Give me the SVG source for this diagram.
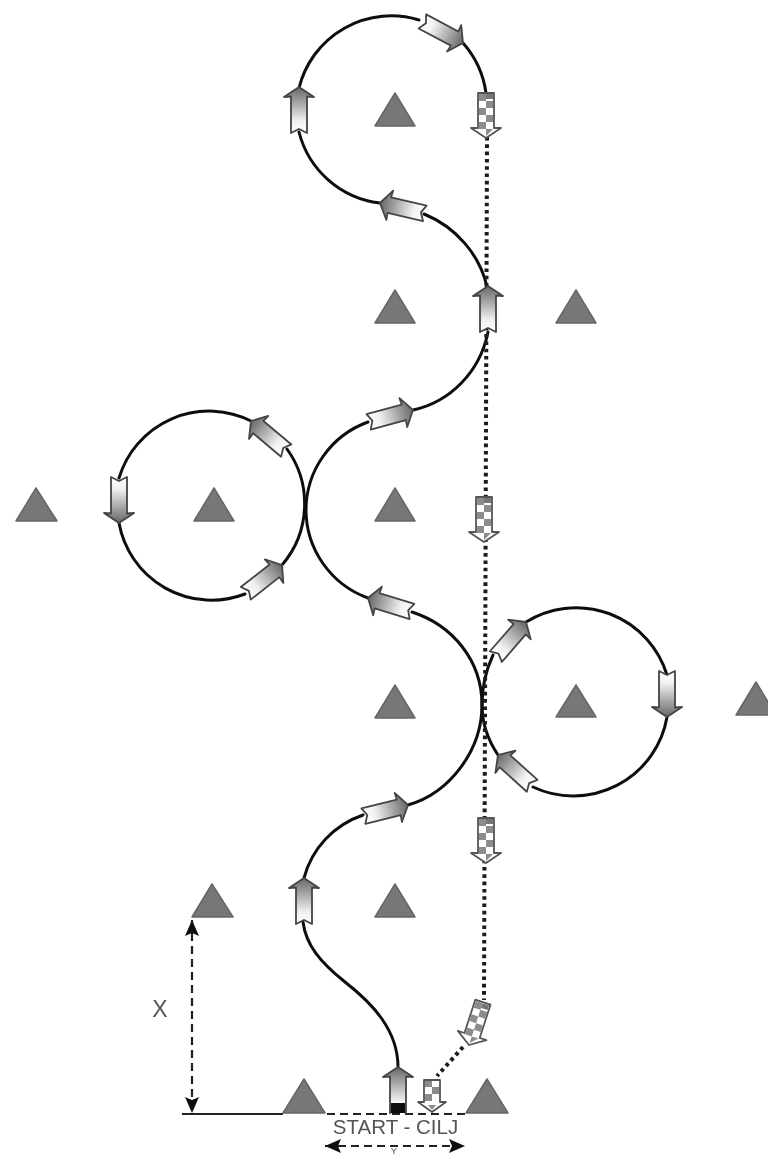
<svg xmlns="http://www.w3.org/2000/svg" width="768" height="1156" viewBox="0 0 768 1156">
<style>
.c{fill:none;stroke:#111;stroke-width:3;stroke-linecap:round}
.d{fill:none;stroke:#1a1a1a;stroke-width:4;stroke-dasharray:3.6 3.7}
.k{fill:none;stroke:#222;stroke-width:2.2;stroke-dasharray:8 5}
.t{fill:#777;stroke:#666;stroke-width:1.5;stroke-linejoin:round}
.l{font-family:"Liberation Sans",Arial,sans-serif;fill:#555}
.o{fill:#fff;stroke:#555;stroke-width:1.8;stroke-linejoin:round}
.q{fill:#8c8c8c}
</style>
<defs>
<filter id="s" x="-2%" y="-2%" width="104%" height="104%"><feGaussianBlur stdDeviation="0.45"/></filter>
<linearGradient id="g" x1="0" y1="0" x2="0" y2="1"><stop offset="0" stop-color="#666"/><stop offset=".75" stop-color="#f2f2f2"/><stop offset="1" stop-color="#fff"/></linearGradient>
<g id="a"><path d="M0 0L15 10L8 9.500V46L0 42L-8 46V9.500L-15 10Z" fill="url(#g)" stroke="#444" stroke-width="1.800" stroke-linejoin="round"/></g>
<g id="b"><path class="o" d="M0 0L-15 -10H-8V-45H8V-10H15Z"/>
<path class="q" d="M-7 -44H0V-37H-7ZM0 -37H7V-30H0ZM-7 -30H0V-23H-7ZM0 -23H7V-16H0ZM-7 -16H0V-9H-7ZM0 -9H7L0 -2Z"/><path fill="#777" d="M0 -44H7V-39H0Z"/></g>
<g id="b2"><path class="o" d="M0 0L-14 -10H-8V-32H8V-10H14Z"/>
<path class="q" d="M-7 -31H0V-25H-7ZM0 -25H7V-18H0ZM-7 -18H0V-11H-7ZM-4 -7H4L0 -2Z"/></g>
<marker id="m" viewBox="0 0 16 14" refX="16" refY="7" markerWidth="16" markerHeight="14" orient="auto-start-reverse" markerUnits="userSpaceOnUse"><path d="M0 0L16 7L0 14L3 7Z" fill="#111"/></marker>
</defs>
<g filter="url(#s)">
<g id="connectors">
<path class="c" d="M299 88A95 95 0 0 1 419 20"/>
<path class="c" d="M463 43A95 95 0 0 1 486 93"/>
<path class="c" d="M299 132A95 95 0 0 0 380 203"/>
<path class="c" d="M424 214C456 227 480 255 487 287"/>
<path class="c" d="M488 332C480 372 450 402 413 410"/>
<path class="c" d="M368 422A94 94 0 0 0 306 510A94 94 0 0 0 368 598"/>
<path class="c" d="M412 612C452 625 482 660 482 705C482 750 450 793 408 805"/>
<path class="c" d="M363 815C334 825 312 848 304 878"/>
<path class="c" d="M303 922C306 945 320 962 345 982C372 1003 398 1030 398 1067"/>
<path class="c" d="M119 478A94 94 0 0 1 251 421"/>
<path class="c" d="M119 523A94 94 0 0 0 245 594"/>
<path class="c" d="M282 565A94 94 0 0 0 287 449"/>
<path class="c" d="M526 622A95 95 0 0 1 667 675"/>
<path class="c" d="M667 717A95 95 0 0 1 533 787"/>
<path class="c" d="M498 755C488 740 482 722 482 705C482 684 486 670 493 655"/>
<path class="d" d="M487 137L484 1000"/>
<path class="d" d="M463 1047L437 1076"/>
<path class="k" d="M192 920V1113" marker-start="url(#m)" marker-end="url(#m)"/>
<path d="M182 1114H283" stroke="#222" stroke-width="2.200" fill="none"/>
<path class="k" d="M327 1114H466"/>
<path class="k" d="M325 1146H465" marker-start="url(#m)" marker-end="url(#m)"/>
</g>
<g id="cones">
<path class="t" d="M395 93L415 126H375Z"/>
<path class="t" d="M395 290L415 323H375Z"/>
<path class="t" d="M576 290L596 323H556Z"/>
<path class="t" d="M36 488L57 521H16Z"/>
<path class="t" d="M214 488L234 521H194Z"/>
<path class="t" d="M395 488L415 521H375Z"/>
<path class="t" d="M395 685L415 718H375Z"/>
<path class="t" d="M576 685L596 717H556Z"/>
<path class="t" d="M756 682L776 715H736Z"/>
<path class="t" d="M212 884L233 917H192Z"/>
<path class="t" d="M395 884L415 917H375Z"/>
<path class="t" d="M304 1079L325 1113H283Z"/>
<path class="t" d="M487 1079L508 1113H466Z"/>
</g>
<g id="arrows">
<use href="#a" transform="translate(299 87)"/>
<use href="#a" transform="translate(463 43) rotate(118)"/>
<use href="#a" transform="translate(380 203) rotate(-77)"/>
<use href="#a" transform="translate(488 286)"/>
<use href="#a" transform="translate(413 410) rotate(75)"/>
<use href="#a" transform="translate(368 598) rotate(-73)"/>
<use href="#a" transform="translate(408 805) rotate(76)"/>
<use href="#a" transform="translate(304 878)"/>
<use href="#a" transform="translate(119 523) rotate(180)"/>
<use href="#a" transform="translate(282 565) rotate(52)"/>
<use href="#a" transform="translate(251 421) rotate(-50)"/>
<use href="#a" transform="translate(526 622) rotate(41)"/>
<use href="#a" transform="translate(667 717) rotate(180)"/>
<use href="#a" transform="translate(498 755) rotate(-48)"/>
<g id="start-arrow"><use href="#a" transform="translate(398 1067)"/><rect x="391" y="1103" width="14" height="10" fill="#111"/></g>
<use href="#b" transform="translate(486 138)"/>
<use href="#b" transform="translate(484 542)"/>
<use href="#b" transform="translate(486 863)"/>
<use href="#b" transform="translate(469 1045) rotate(18)"/>
<use href="#b2" transform="translate(432 1112)"/>
</g>
<g id="labels">
<text class="l" x="160" y="1017" font-size="23" text-anchor="middle">X</text>
<text class="l" x="395.500" y="1134" font-size="20.500" text-anchor="middle">START - CILJ</text>
<text class="l" x="394" y="1154" font-size="9.500" text-anchor="middle">Y</text>
</g>
</g>
</svg>
